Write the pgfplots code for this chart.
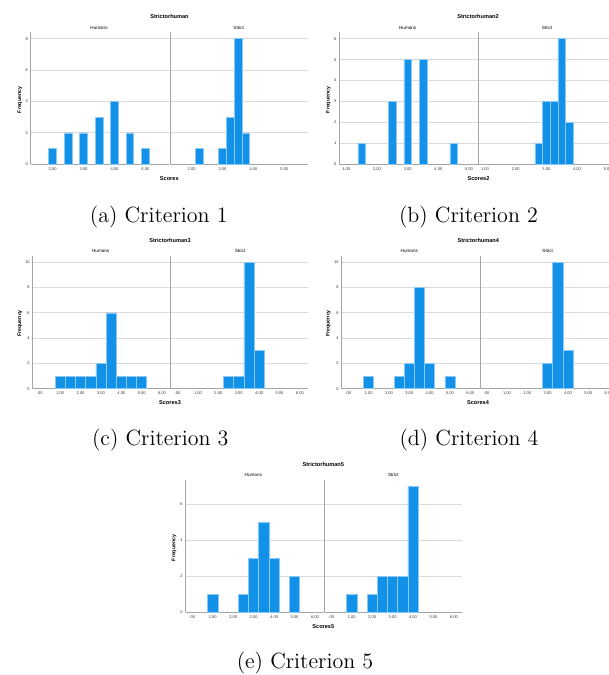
\documentclass[border=0pt]{standalone}
\usepackage{pgfplots}
\pgfplotsset{compat=1.18}
\usepackage{fontspec}
\newfontfamily\spss{Liberation Sans}
\definecolor{barblue}{RGB}{18,145,232}
\definecolor{baredge}{RGB}{140,200,244}
\definecolor{gridc}{RGB}{218,218,218}
\definecolor{axc}{RGB}{165,165,165}
\pgfplotsset{
  spss/.style={
    scale only axis, anchor=south west, ymin=0,
    axis x line*=bottom, axis y line*=left,
    axis line style={axc, line width=0.5pt, -},
    ymajorgrids, major grid style={gridc, line width=0.5pt},
    major tick length=0pt,
    /pgf/number format/assume math mode=true,
    tick label style={font=\spss\fontsize{2}{2.4}\selectfont, text=black!80},
    xticklabel style={yshift=1.9pt},
    yticklabel style={xshift=2.0pt},
  },
  strict/.style={yticklabels={}},
  bars/.style={ybar, fill=barblue, draw=baredge, line width=0.3pt},
}
\newcommand{\ttl}{\spss\bfseries\fontsize{2.8}{3}\selectfont}
\newcommand{\pnl}{\spss\fontsize{2.3}{2.6}\selectfont}
\newcommand{\frq}{\spss\bfseries\fontsize{2.6}{3}\selectfont}
\newcommand{\capf}{\fontsize{11}{13}\selectfont}
\begin{document}
\begin{tikzpicture}
% ---------------- (a) ----------------
\begin{axis}[spss, at={(15.5pt,255.35pt)}, width=69pt, height=66pt,
  xmin=1.30, xmax=5.766, ymax=8.41, ytick={0,2,4,6,8},
  xtick={2,3,4,5}, xticklabels={2.00,3.00,4.00,5.00}]
\addplot[bars, bar width=0.25] coordinates {(2.0,1) (2.5,2) (3.0,2) (3.5,3) (4.0,4) (4.5,2) (5.0,1)};
\end{axis}
\begin{axis}[spss, strict, at={(85pt,255.35pt)}, width=69pt, height=66pt,
  xmin=1.30, xmax=5.766, ymax=8.41, ytick={0,2,4,6,8},
  xtick={2,3,4,5}, xticklabels={2.00,3.00,4.00,5.00}]
\addplot[bars, bar width=0.25] coordinates {(2.25,1) (3.0,1) (3.25,3) (3.5,8) (3.75,2)};
\end{axis}
\node[font=\ttl] at (84.75pt,329.15pt) {Strictorhuman};
\node[font=\pnl] at (49.5pt,323.65pt) {Humans};
\node[font=\pnl] at (119.35pt,323.65pt) {Strict};
\node[font=\frq, rotate=90] at (10pt,287.5pt) {Frequency};
\node[font=\ttl] at (84.65pt,248pt) {Scores};
\node[font=\capf, anchor=base] at (79.4pt,226.15pt) {(a) Criterion 1};
% ---------------- (b) ----------------
\begin{axis}[spss, at={(169.65pt,255.35pt)}, width=69.25pt, height=66pt,
  xmin=0.772, xmax=5.286, ymax=6.31, ytick={0,1,2,3,4,5,6},
  xtick={1,2,3,4,5}, xticklabels={1.00,2.00,3.00,4.00,5.00}]
\addplot[bars, bar width=0.25] coordinates {(1.5,1) (2.5,3) (3.0,5) (3.5,5) (4.5,1)};
\end{axis}
\begin{axis}[spss, strict, at={(239pt,255.35pt)}, width=69.25pt, height=66pt,
  xmin=0.772, xmax=5.286, ymax=6.31, ytick={0,1,2,3,4,5,6},
  xtick={1,2,3,4,5}, xticklabels={1.00,2.00,3.00,4.00,5.00}]
\addplot[bars, bar width=0.25] coordinates {(2.75,1) (3.0,3) (3.25,3) (3.5,6) (3.75,2)};
\end{axis}
\node[font=\ttl] at (239pt,329.15pt) {Strictorhuman2};
\node[font=\pnl] at (203.85pt,323.65pt) {Humans};
\node[font=\pnl] at (273.5pt,323.65pt) {Strict};
\node[font=\frq, rotate=90] at (164.15pt,287.5pt) {Frequency};
\node[font=\ttl] at (239.25pt,248pt) {Scores2};
\node[font=\capf, anchor=base] at (234.25pt,226.15pt) {(b) Criterion 2};
% ---------------- (c) ----------------
\begin{axis}[spss, at={(16.35pt,143.15pt)}, width=68.75pt, height=66.2pt,
  xmin=-0.35, xmax=6.40, ymax=10.47, ytick={0,2,4,6,8,10},
  xtick={0,1,2,3,4,5,6}, xticklabels={.00,1.00,2.00,3.00,4.00,5.00,6.00}]
\addplot[bars, bar width=0.5] coordinates {(1.0,1) (1.5,1) (2.0,1) (2.5,1) (3.0,2) (3.5,6) (4.0,1) (4.5,1) (5.0,1)};
\end{axis}
\begin{axis}[spss, strict, at={(85.25pt,143.15pt)}, width=68.75pt, height=66.2pt,
  xmin=-0.35, xmax=6.40, ymax=10.47, ytick={0,2,4,6,8,10},
  xtick={0,1,2,3,4,5,6}, xticklabels={.00,1.00,2.00,3.00,4.00,5.00,6.00}]
\addplot[bars, bar width=0.5] coordinates {(2.5,1) (3.0,1) (3.5,10) (4.0,3)};
\end{axis}
\node[font=\ttl] at (85pt,217pt) {Strictorhuman3};
\node[font=\pnl] at (50.35pt,211.85pt) {Humans};
\node[font=\pnl] at (120pt,211.85pt) {Strict};
\node[font=\frq, rotate=90] at (10pt,175.85pt) {Frequency};
\node[font=\ttl] at (85pt,136.15pt) {Scores3};
\node[font=\capf, anchor=base] at (80.15pt,114.5pt) {(c) Criterion 3};
% ---------------- (d) ----------------
\begin{axis}[spss, at={(170.85pt,143.15pt)}, width=69.15pt, height=66.2pt,
  xmin=-0.325, xmax=6.48, ymax=10.47, ytick={0,2,4,6,8,10},
  xtick={0,1,2,3,4,5,6}, xticklabels={.00,1.00,2.00,3.00,4.00,5.00,6.00}]
\addplot[bars, bar width=0.5] coordinates {(1.0,1) (2.5,1) (3.0,2) (3.5,8) (4.0,2) (5.0,1)};
\end{axis}
\begin{axis}[spss, strict, at={(240pt,143.15pt)}, width=69.15pt, height=66.2pt,
  xmin=-0.325, xmax=6.48, ymax=10.47, ytick={0,2,4,6,8,10},
  xtick={0,1,2,3,4,5,6}, xticklabels={.00,1.00,2.00,3.00,4.00,5.00,6.00}]
\addplot[bars, bar width=0.5] coordinates {(3.0,2) (3.5,10) (4.0,3)};
\end{axis}
\node[font=\ttl] at (239.15pt,217pt) {Strictorhuman4};
\node[font=\pnl] at (204.65pt,211.85pt) {Humans};
\node[font=\pnl] at (273.85pt,211.85pt) {Strict};
\node[font=\frq, rotate=90] at (164.15pt,175.85pt) {Frequency};
\node[font=\ttl] at (239pt,136.35pt) {Scores4};
\node[font=\capf, anchor=base] at (234.5pt,114.5pt) {(d) Criterion 4};
% ---------------- (e) ----------------
\begin{axis}[spss, at={(92.85pt,31.35pt)}, width=69.25pt, height=66.15pt,
  xmin=-0.32, xmax=6.45, ymax=7.35, ytick={0,2,4,6},
  xtick={0,1,2,3,4,5,6}, xticklabels={.00,1.00,2.00,3.00,4.00,5.00,6.00}]
\addplot[bars, bar width=0.5] coordinates {(1.0,1) (2.5,1) (3.0,3) (3.5,5) (4.0,3) (5.0,2)};
\end{axis}
\begin{axis}[spss, strict, at={(162.35pt,31.35pt)}, width=68.5pt, height=66.15pt,
  xmin=-0.32, xmax=6.38, ymax=7.35, ytick={0,2,4,6},
  xtick={0,1,2,3,4,5,6}, xticklabels={.00,1.00,2.00,3.00,4.00,5.00,6.00}]
\addplot[bars, bar width=0.5] coordinates {(1.0,1) (2.0,1) (2.5,2) (3.0,2) (3.5,2) (4.0,7)};
\end{axis}
\node[font=\ttl] at (161.65pt,105pt) {Strictorhuman5};
\node[font=\pnl] at (126.65pt,100pt) {Humans};
\node[font=\pnl] at (196.65pt,100pt) {Strict};
\node[font=\frq, rotate=90] at (87pt,63.5pt) {Frequency};
\node[font=\ttl] at (161.65pt,24pt) {Scores5};
\node[font=\capf, anchor=base] at (152.5pt,3pt) {(e) Criterion 5};
\pgfresetboundingbox
\path[use as bounding box] (0pt,0pt) rectangle (304.5pt,337.5pt);
\end{tikzpicture}
\end{document}
